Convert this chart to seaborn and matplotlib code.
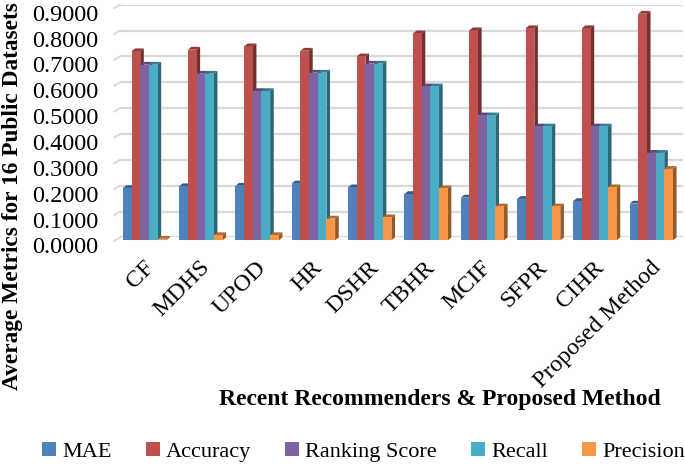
import matplotlib
matplotlib.use("Agg")
import matplotlib.pyplot as plt
import matplotlib.colors as mc
import seaborn as sns
import pandas as pd
from matplotlib.patches import Patch
from matplotlib.transforms import ScaledTranslation

categories = ["CF", "MDHS", "UPOD", "HR", "DSHR", "TBHR", "MCIF", "SFPR", "CIHR", "Proposed Method"]
mae = [0.202, 0.209, 0.211, 0.220, 0.205, 0.179, 0.165, 0.160, 0.152, 0.142]
accuracy = [0.731, 0.737, 0.750, 0.733, 0.711, 0.800, 0.812, 0.820, 0.820, 0.876]
ranking = [0.679, 0.644, 0.577, 0.648, 0.683, 0.595, 0.483, 0.440, 0.440, 0.338]
recall = [0.679, 0.644, 0.577, 0.648, 0.683, 0.595, 0.483, 0.440, 0.440, 0.338]
precision = [0.006, 0.020, 0.020, 0.084, 0.089, 0.201, 0.131, 0.131, 0.205, 0.276]
series = {"MAE": mae, "Accuracy": accuracy, "Ranking Score": ranking, "Recall": recall, "Precision": precision}
colors = ["#4F81BD", "#C0504D", "#8064A2", "#4BACC6", "#F79646"]
yticks = [0.0, 0.1, 0.2, 0.3, 0.4, 0.5, 0.6, 0.7, 0.8, 0.9]

sns.set_theme(style="white")
plt.rcParams["font.family"] = ["Liberation Serif", "DejaVu Serif"]

W, H = 685, 467
fig = plt.figure(figsize=(W / 100, H / 100), dpi=100)
L, R, T, B = 120, 683, 4.7, 237.5
ax = fig.add_axes([L / W, 1 - B / H, (R - L) / W, (B - T) / H])

df = pd.DataFrame([(c, s, v[i]) for s, v in series.items() for i, c in enumerate(categories)],
                  columns=["cat", "metric", "value"])
sns.barplot(data=df, x="cat", y="value", hue="metric", order=categories, hue_order=list(series),
            palette=colors, saturation=1, width=0.77, gap=0, legend=False, ax=ax, errorbar=None, zorder=3)

ax.set_xlim(-0.5, 9.5)
ax.set_ylim(0, 0.9)
px_x = 10 / (R - L)
px_y = 0.9 / (B - T)
dx, dy = 3.6 * px_x, 2.8 * px_y

def shade(color, f):
    r, g, b = mc.to_rgb(color)
    return (r * f, g * f, b * f)

for k, cont in enumerate(ax.containers):
    z = 3 + k
    col = colors[k]
    for p in cont:
        x, w, h = p.get_x(), p.get_width(), p.get_height()
        p.set_x(x - dx)
        p.set_y(-dy)
        p.set_clip_on(False)
        p.set_zorder(z + 0.2)
        p.set_edgecolor("none")
        # side and top faces follow the bar's own geometry
        xr = x + w - dx
        ax.fill([xr, xr + dx, xr + dx, xr], [-dy, 0, h, h - dy], color=shade(col, 0.6),
                lw=0, clip_on=False, zorder=z)
        ax.fill([x - dx, x, x + w, xr], [h - dy, h, h, h - dy], color=shade(col, 0.72),
                lw=0, clip_on=False, zorder=z + 0.1)

for s in ax.spines.values():
    s.set_visible(False)
ax.yaxis.grid(True, color="#D9D9D9", lw=1.6, zorder=0)
ax.set_axisbelow(True)
for t in yticks:
    ax.plot([-6 * px_x - 0.5, -0.5], [t - 3.5 * px_y, t], color="#D9D9D9", lw=1.4,
            clip_on=False, zorder=1)

ax.set_yticks(yticks)
ax.set_yticklabels([f"{t:.4f}" for t in yticks])
ax.tick_params(axis="y", length=0, pad=15.5, labelsize=17.5, colors="black")
off = ScaledTranslation(0, -8 / 100, fig.dpi_scale_trans)
for lab in ax.get_yticklabels():
    lab.set_transform(lab.get_transform() + off)

ax.set_xticks(range(len(categories)))
ax.set_xticklabels(categories, rotation=45, ha="right", va="top", rotation_mode="anchor",
                   fontsize=17.3, color="black")
ax.tick_params(axis="x", length=0, pad=14)
off2 = ScaledTranslation(-5 / 100, 0, fig.dpi_scale_trans)
for lab in ax.get_xticklabels():
    lab.set_transform(lab.get_transform() + off2)

ax.set_xlabel("")
ax.set_ylabel("")
fig.text(13 / W, 1 - 196 / H, "Average Metrics for 16 Public Datasets", rotation=90, ha="center", va="center",
         fontsize=16.8, fontweight="bold", color="black")
fig.text(439.5 / W, 1 - 400 / H, "Recent Recommenders & Proposed Method", ha="center", va="center",
         fontsize=17, fontweight="bold", color="black")

handles = [Patch(facecolor=c, edgecolor="none", label=s) for c, s in zip(colors, series)]
fig.legend(handles=handles, loc="center left", bbox_to_anchor=(42 / W, 1 - 452 / H), ncol=5, frameon=False,
           fontsize=16, handlelength=0.62, handleheight=0.62, handletextpad=0.29, columnspacing=1.53,
           labelcolor="black", borderpad=0, borderaxespad=0)

fig.savefig("out.png", dpi=100)
